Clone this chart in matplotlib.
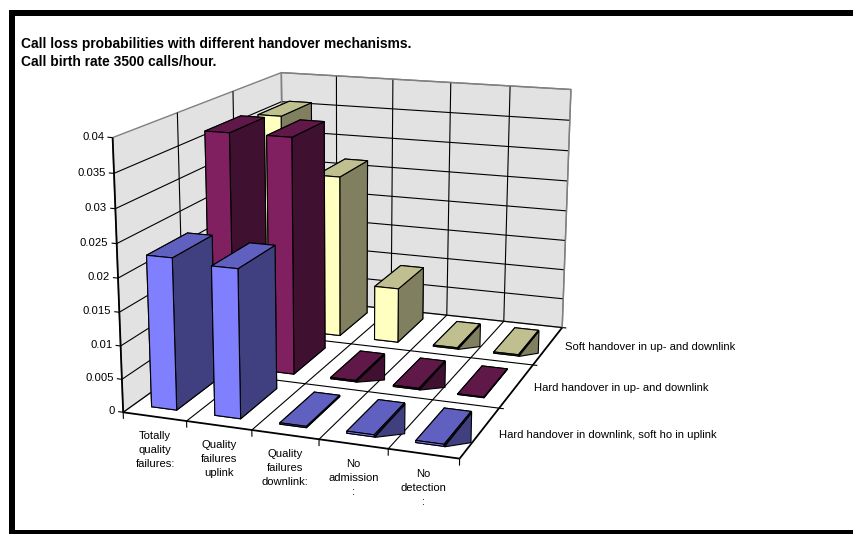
import numpy as np
import matplotlib
matplotlib.use("Agg")
import matplotlib.pyplot as plt
from matplotlib.patches import Rectangle
from mpl_toolkits.mplot3d import proj3d
from mpl_toolkits.mplot3d.art3d import Poly3DCollection, Line3DCollection

plt.rcParams["font.family"] = ["Liberation Sans", "DejaVu Sans"]

W, H = 854, 534
ZMAX = 0.04

# data
categories = ["Totally\nquality\nfailures:", "Quality\nfailures\nuplink", "Quality\nfailures\ndownlink:",
              "No\nadmission\n:", "No\ndetection\n:"]
series_names = ["Hard handover in downlink, soft ho in uplink", "Hard handover in up- and downlink",
                "Soft handover in up- and downlink"]
hybrid_ho = [0.0227, 0.0221, 0.0002, 0.0003, 0.0003]
hard_ho = [0.0368, 0.0368, 0.0002, 0.0002, 0.0001]
soft_ho = [0.0358, 0.0266, 0.0090, 0.0002, 0.0002]
series_values = [hybrid_ho, hard_ho, soft_ho]
zticks = [0, 0.005, 0.01, 0.015, 0.02, 0.025, 0.03, 0.035, 0.04]
zticklabels = ["0", "0.005", "0.01", "0.015", "0.02", "0.025", "0.03", "0.035", "0.04"]

# colours per series: front, top, side
series_colors = [("#8080FF", "#6060C0", "#404080"),
                 ("#802060", "#601848", "#401030"),
                 ("#FFFFC0", "#BFBF90", "#808060")]
# the very low bars get a dark triangle under them in the original
wedge_cols = [[3, 4], [2, 3], [3, 4]]
wedge_drop = [0.0047, 0.0043, 0.0039]
BAR_X, BAR_W = 0.28, 0.4
BAR_Y, BAR_D = 0.17, 0.66

# where chart corners sit in the reference, in pixels: (x, y, z) -> (px, py)
anchors = [
    (0, 0, 0, 123.2, 412.5), (1, 0, 0, 186.7, 420.7), (2, 0, 0, 251.7, 430), (3, 0, 0, 319, 439.3),
    (4, 0, 0, 388, 449), (5, 0, 0, 460.5, 458.5), (5, 1, 0, 498.4, 408.3), (5, 2, 0, 532.7, 365),
    (5, 3, 0, 562.7, 327.5), (0, 0, 0.04, 112.7, 137.3), (0, 1, 0.04, 177.3, 112.7), (0, 2, 0.04, 232.7, 91.7),
    (0, 3, 0.04, 281.5, 72.3), (1, 3, 0.04, 336, 75.7), (2, 3, 0.04, 393.3, 79.3), (3, 3, 0.04, 451, 82.7),
    (4, 3, 0.04, 510, 86), (5, 3, 0.04, 571, 89.3), (5, 3, 0.015, 565, 240.3), (0, 3, 0.035, 281.7, 101.7),
]


def fit_projection(points):
    # least squares homography from data coordinates to pixels
    rows, rhs = [], []
    for x, y, z, px, py in points:
        z = z / ZMAX
        rows.append([x, y, z, 1, 0, 0, 0, 0, -px * x, -px * y, -px * z])
        rows.append([0, 0, 0, 0, x, y, z, 1, -py * x, -py * y, -py * z])
        rhs += [px, py]
    p = np.linalg.lstsq(np.array(rows, float), np.array(rhs, float), rcond=None)[0]
    P = np.array([p[:4], p[4:8], [*p[8:11], 1.0]])
    P[:, 2] /= ZMAX
    return P


def lines3d(ax, segments, color="black", lw=0.8, zorder=2):
    ax.add_collection3d(Line3DCollection(segments, colors=color, linewidths=lw, zorder=zorder))


def label3d(ax, x, y, z, text, **kwargs):
    # text at a 3D spot, placed as plain 2D text
    x2, y2, _ = proj3d.proj_transform(x, y, z, ax.get_proj())
    ax.text2D(x2, y2, text, transform=ax.transData, **kwargs)


fig = plt.figure(figsize=(W / 100, H / 100), dpi=100, facecolor="white")
ax = fig.add_axes([0, 0, 1, 1], projection="3d", computed_zorder=False)
ax.apply_aspect = lambda position=None: None
ax.set_axis_off()
ax.patch.set_visible(False)

# turn the pixel homography into the matrix Axes3D wants
P = fit_projection(anchors)
inv = ax.transData.inverted()
o = inv.transform((0, H))
sx = inv.transform((1, H))[0] - o[0]
sy = inv.transform((0, H + 1))[1] - o[1]
M = np.zeros((4, 4))
M[0] = sx * P[0] + o[0] * P[2]
M[1] = -sy * P[1] + o[1] * P[2]
M[2] = [-0.1, 1.0, -0.5 / ZMAX, 5.0]
M[3] = P[2]
ax.get_proj = lambda: M

# frame
fig.add_artist(Rectangle((9 / W, 0), 1, (H - 10) / H, transform=fig.transFigure, fc="black", ec="none", zorder=-3))
fig.add_artist(Rectangle((15 / W, 4 / H), (853 - 15) / W, (530 - 16) / H, transform=fig.transFigure,
                         fc="white", ec="none", zorder=-2))

# walls
walls = [[(0, 0, 0), (0, 3, 0), (0, 3, ZMAX), (0, 0, ZMAX)], [(0, 3, 0), (5, 3, 0), (5, 3, ZMAX), (0, 3, ZMAX)]]
ax.add_collection3d(Poly3DCollection(walls, facecolor="#E2E2E2", edgecolor="#808080", linewidth=1.0, zorder=1))

# gridlines
grid = [[(0, 0, 0), (0, 3, 0)], [(0, 3, 0), (5.07, 3, 0)]]
for z in zticks[1:-1]:
    grid += [[(0, 0, z), (0, 3, z)], [(0, 3, z), (5, 3, z)]]
for x in range(1, 5):
    grid += [[(x, 0, 0), (x, 3, 0)], [(x, 3, 0), (x, 3, ZMAX)]]
for y in (1, 2):
    grid += [[(0, y, 0), (5.07, y, 0)], [(0, y, 0), (0, y, ZMAX)]]
lines3d(ax, grid)
lines3d(ax, [[(0, 3, ZMAX), (5, 3, ZMAX)], [(5, 3, ZMAX), (5, 3, 0)], [(0, 3, 0), (0, 3, ZMAX)]], color="#808080", lw=1.0)

# bars, back row first
order = 10
for s in (2, 1, 0):
    front, top, side = series_colors[s]
    for c, v in enumerate(series_values[s]):
        x0, y0 = c + BAR_X, s + BAR_Y
        x1, y1 = x0 + BAR_W, y0 + BAR_D
        if c in wedge_cols[s]:
            tri = [(x1, y0, 0), (x1, y1, v), (x1, y1, v - wedge_drop[s])]
            ax.add_collection3d(Poly3DCollection([tri], facecolor=side, edgecolor="black", linewidth=0.8, zorder=order))
            order += 1
        # bar3d faces: bottom, top, front, back, left, right
        ax.bar3d(x0, y0, 0, BAR_W, BAR_D, v, color=[side, top, front, side, side, side],
                 shade=False, edgecolor="black", linewidth=0.8, zorder=order)
        order += 1

# axis lines and ticks
lines3d(ax, [[(0, 0, 0), (0, 0, ZMAX)], [(0, 0, 0), (5, 0, 0)], [(5, 0, 0), (5, 3, 0)]], lw=1.3, zorder=order)
ticks = []
for z, label in zip(zticks, zticklabels):
    ticks.append([(-0.08, 0, z), (0, 0, z)])
    label3d(ax, -0.13, 0, z, label, ha="right", va="center", fontsize=8.1, zorder=order + 1)
for x in range(6):
    ticks.append([(x, 0, -0.001), (x, 0, 0)])
lines3d(ax, ticks, zorder=order)
for c, label in enumerate(categories):
    label3d(ax, c + 0.5, 0, -0.0022, label, ha="center", va="top", fontsize=8.1, linespacing=1.5,
            multialignment="center", zorder=order + 1)
for s, label in enumerate(series_names):
    label3d(ax, 5.27, s + 0.5, 0, label, ha="left", va="center", fontsize=8.1, zorder=order + 1)

fig.text(21 / W, 1 - 37 / H, "Call loss probabilities with different handover mechanisms.\nCall birth rate 3500 calls/hour.",
         fontsize=9.87, fontweight="bold", ha="left", va="top", linespacing=1.37)

fig.savefig("out.png", dpi=100)
